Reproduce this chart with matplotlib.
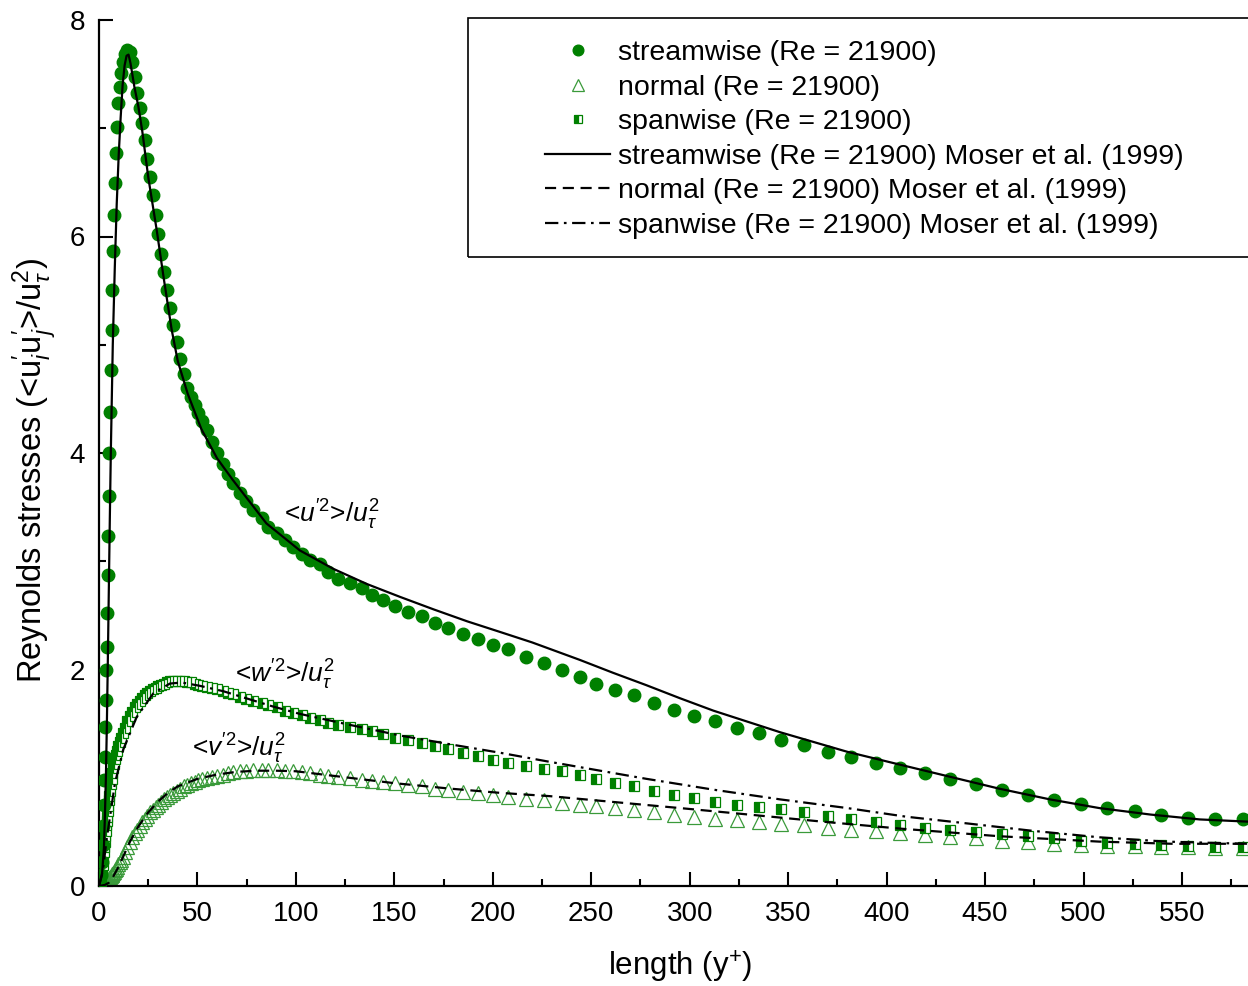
import matplotlib
matplotlib.use("Agg")
import matplotlib.pyplot as plt
from matplotlib.patches import Rectangle
from matplotlib.ticker import MultipleLocator

plt.rcParams["font.family"] = ["Liberation Sans", "DejaVu Sans"]
plt.rcParams["mathtext.fontset"] = "custom"
plt.rcParams["mathtext.rm"] = "Liberation Sans"
plt.rcParams["mathtext.it"] = "Liberation Sans:italic"
plt.rcParams["mathtext.bf"] = "Liberation Sans:bold"

# common wall-normal grid of the simulation (y+)
yplus = [
    0.0, 0.6, 1.1, 1.5, 1.85, 2.15, 2.45, 2.7, 2.95, 3.2, 3.45, 3.7, 3.9, 4.1, 4.35, 4.6, 4.85,
    5.1, 5.5, 5.95, 6.4, 6.85, 7.3, 7.8, 8.3, 8.8, 9.35, 9.9, 10.5, 11.2, 12.0, 13.0, 14.4,
    15.8, 17.0, 18.2, 19.4, 20.6, 21.9, 23.2, 24.5, 25.9, 27.3, 28.7, 30.1, 31.6, 33.1, 34.6,
    36.2, 37.8, 39.5, 41.2, 43.0, 44.8, 46.7, 48.6, 50.4, 52.3,
    54.7, 57.2, 59.7, 62.8, 65.6, 68.2, 71.6, 74.9, 78.3, 82.6, 85.9, 90.2, 94.4, 98.6, 102.9,
    107.1, 112.2, 116.4, 121.5, 127.4, 133.4, 138.4, 144.3, 150.3, 157.0, 163.8, 170.6, 177.3, 184.9,
    192.5, 200.2, 207.8, 216.8, 225.9, 235.0, 244.2, 252.3, 261.9, 271.6, 281.7, 291.9, 302.2,
    312.7, 324.1, 335.0, 346.5, 358.0, 370.2, 382.0, 394.4, 406.9, 419.3, 432.3, 445.3, 458.4,
    471.6, 484.8, 498.5, 512.0, 526.0, 539.4, 553.1, 566.8, 580.9,
]

uu = [
    0.0, 0.03, 0.10, 0.22, 0.38, 0.55, 0.75, 0.98, 1.19, 1.47, 1.72, 2.00, 2.21, 2.52, 2.87, 3.23, 3.60,
    4.00, 4.38, 4.77, 5.14, 5.51, 5.87, 6.20, 6.49, 6.77, 7.01, 7.23, 7.38, 7.51, 7.61, 7.69, 7.72,
    7.70, 7.61, 7.47, 7.33, 7.19, 7.05, 6.89, 6.72, 6.55, 6.38, 6.20, 6.02, 5.84, 5.67, 5.51,
    5.34, 5.18, 5.03, 4.87, 4.73, 4.60, 4.52, 4.44, 4.37, 4.30,
    4.21, 4.10, 4.00, 3.90, 3.81, 3.72, 3.63, 3.56, 3.47, 3.40, 3.32, 3.26, 3.20, 3.13, 3.07,
    3.01, 2.97, 2.90, 2.84, 2.80, 2.75, 2.69, 2.64, 2.59, 2.53, 2.49, 2.43, 2.38, 2.33,
    2.28, 2.23, 2.19, 2.12, 2.06, 2.00, 1.93, 1.87, 1.81, 1.76, 1.69, 1.63, 1.57,
    1.52, 1.46, 1.41, 1.35, 1.30, 1.24, 1.19, 1.14, 1.09, 1.04, 0.99, 0.94, 0.89,
    0.84, 0.79, 0.76, 0.72, 0.69, 0.66, 0.63, 0.62, 0.62,
]

vv = [
    0.0, 0.0, 0.0, 0.005, 0.01, 0.01, 0.015, 0.02, 0.02, 0.025, 0.03, 0.035, 0.04, 0.045, 0.05, 0.055, 0.06,
    0.07, 0.08, 0.09, 0.10, 0.11, 0.12, 0.13, 0.15, 0.16, 0.18, 0.20, 0.22, 0.24, 0.27, 0.31, 0.36,
    0.41, 0.45, 0.49, 0.52, 0.55, 0.59, 0.62, 0.65, 0.68, 0.70, 0.73, 0.75, 0.78, 0.80, 0.82,
    0.84, 0.86, 0.88, 0.90, 0.92, 0.93, 0.95, 0.96, 0.98, 0.99,
    1.00, 1.01, 1.02, 1.03, 1.04, 1.05, 1.06, 1.06, 1.07, 1.07, 1.07, 1.07, 1.06, 1.06, 1.05,
    1.04, 1.03, 1.02, 1.01, 1.00, 0.98, 0.97, 0.96, 0.95, 0.93, 0.92, 0.90, 0.89, 0.87,
    0.86, 0.84, 0.82, 0.80, 0.79, 0.77, 0.75, 0.74, 0.72, 0.70, 0.68, 0.66, 0.64,
    0.62, 0.61, 0.59, 0.57, 0.56, 0.54, 0.52, 0.51, 0.49, 0.47, 0.45, 0.44, 0.42,
    0.41, 0.39, 0.38, 0.37, 0.37, 0.36, 0.36, 0.35, 0.35,
]

ww = [
    0.0, 0.03, 0.08, 0.13, 0.19, 0.25, 0.31, 0.36, 0.41, 0.46, 0.51, 0.56, 0.60, 0.64, 0.69, 0.74, 0.79,
    0.83, 0.88, 0.94, 0.99, 1.04, 1.09, 1.13, 1.17, 1.21, 1.25, 1.29, 1.33, 1.37, 1.41, 1.46, 1.52,
    1.57, 1.61, 1.65, 1.68, 1.71, 1.74, 1.76, 1.78, 1.80, 1.82, 1.83, 1.85, 1.86, 1.87, 1.88,
    1.89, 1.89, 1.89, 1.89, 1.89, 1.88, 1.88, 1.87, 1.86, 1.85,
    1.84, 1.83, 1.82, 1.80, 1.78, 1.77, 1.75, 1.73, 1.71, 1.69, 1.67, 1.65, 1.62, 1.60, 1.58,
    1.55, 1.53, 1.51, 1.49, 1.47, 1.45, 1.43, 1.40, 1.37, 1.35, 1.32, 1.29, 1.27, 1.23,
    1.20, 1.16, 1.14, 1.11, 1.08, 1.06, 1.03, 0.99, 0.95, 0.92, 0.88, 0.84, 0.81,
    0.78, 0.75, 0.73, 0.71, 0.68, 0.65, 0.62, 0.59, 0.56, 0.54, 0.52, 0.50, 0.48,
    0.46, 0.44, 0.42, 0.40, 0.39, 0.38, 0.37, 0.36, 0.36,
]

# Moser, Kim & Mansour (1999) reference profiles
moser_u_y = [0, 1.5, 2.5, 3.0, 3.5, 4.0, 4.5, 5.0, 5.5, 6.0, 7.0, 8.0, 9.0, 10, 11, 12, 13, 14, 15, 16,
             18, 20, 22, 25, 29.3, 33, 36.9, 40, 45, 52, 60, 68, 85, 102, 119, 136, 153, 170, 187, 204,
             220, 232, 244, 261, 278, 295, 312, 346, 380, 407, 432, 457, 483, 508, 534, 559, 583]
moser_u = [0, 0.10, 0.35, 0.65, 1.0, 1.5, 2.1, 2.75, 3.4, 4.0, 5.0, 5.7, 6.3, 6.75, 7.1, 7.4, 7.58, 7.67,
           7.68, 7.6, 7.38, 7.2, 6.97, 6.55, 6.06, 5.6, 5.14, 4.85, 4.55, 4.22, 3.95, 3.75, 3.35, 3.10,
           2.93, 2.79, 2.67, 2.555, 2.445, 2.345, 2.25, 2.17, 2.09, 1.97, 1.855, 1.735, 1.62, 1.42,
           1.24, 1.12, 1.01, 0.90, 0.80, 0.72, 0.66, 0.615, 0.595]

moser_v_y = [0, 3, 5, 7, 10, 13, 16, 20, 25, 30, 35, 40, 50, 60, 70, 80, 90, 100, 127, 150, 178, 204,
             229, 253, 295, 330, 370, 407, 457, 508, 545, 583]
moser_v = [0, 0.01, 0.03, 0.08, 0.18, 0.30, 0.42, 0.55, 0.68, 0.78, 0.86, 0.92, 0.99, 1.03, 1.055,
           1.065, 1.065, 1.06, 1.00, 0.95, 0.90, 0.86, 0.83, 0.79, 0.72, 0.66, 0.59, 0.53, 0.46, 0.41,
           0.39, 0.39]

moser_w_y = [0, 2, 4, 5.6, 8.1, 12.3, 19.1, 27.6, 36, 42, 51, 63, 88, 102, 127, 153, 178, 204, 228,
             253, 278, 312, 346, 380, 410, 440, 474, 508, 542, 583]
moser_w = [0, 0.15, 0.45, 0.64, 0.95, 1.26, 1.56, 1.78, 1.87, 1.88, 1.85, 1.80, 1.66, 1.59, 1.49,
           1.39, 1.31, 1.23, 1.15, 1.07, 0.99, 0.89, 0.80, 0.72, 0.64, 0.58, 0.51, 0.45, 0.41, 0.39]

GREEN = "#008000"
LIGHT_GREEN = "#3a9a3a"
W, H = 1248, 986

fig = plt.figure(figsize=(W / 100, H / 100), dpi=100)
ax = fig.add_axes([99 / W, 1 - 886 / H, 1 - 99 / W, (886 - 20) / H])

h_u, = ax.plot(yplus, uu, "o", ms=9, color=GREEN, mec=GREEN, ls="none",
               label="streamwise (Re = 21900)", zorder=3)
h_v, = ax.plot(yplus, vv, "^", ms=10, mfc="none", mec=LIGHT_GREEN, mew=0.9, ls="none",
               label="normal (Re = 21900)", zorder=2)
h_w, = ax.plot(yplus, ww, "s", ms=7.5, fillstyle="left", mfc=GREEN, mfcalt="white", mec=GREEN,
               mew=0.9, ls="none", label="spanwise (Re = 21900)", zorder=2)
l_u, = ax.plot(moser_u_y, moser_u, "-", color="black", lw=1.6,
               label="streamwise (Re = 21900) Moser et al. (1999)", zorder=4)
l_v, = ax.plot(moser_v_y, moser_v, color="black", lw=1.6, dashes=(5, 3),
               label="normal (Re = 21900) Moser et al. (1999)", zorder=4)
l_w, = ax.plot(moser_w_y, moser_w, color="black", lw=1.6, dashes=(6, 2.5, 1.2, 2.5),
               label="spanwise (Re = 21900) Moser et al. (1999)", zorder=4)

ax.set_xlim(0, (W - 99) / 1.969)
ax.set_ylim(0, 8)
ax.xaxis.set_major_locator(MultipleLocator(50))
ax.xaxis.set_minor_locator(MultipleLocator(25))
ax.yaxis.set_major_locator(MultipleLocator(2))
ax.yaxis.set_minor_locator(MultipleLocator(1))
ax.tick_params(which="major", direction="in", length=10, width=1.5, labelsize=20)
ax.tick_params(axis="x", which="major", pad=11)
ax.tick_params(axis="y", which="major", pad=10)
ax.tick_params(which="minor", direction="in", length=5, width=1.5)
for side in ("top", "right"):
    ax.spines[side].set_visible(False)
for side in ("left", "bottom"):
    ax.spines[side].set_linewidth(1.6)

ax.set_xlabel("length (y$^{+}$)", fontsize=22.5)
ax.set_ylabel(r"Reynolds stresses (<$\mathrm{u}_i^{\prime}\mathrm{u}_j^{\prime}$>/$\mathrm{u}_\tau^2$)",
              fontsize=23.5)
ax.xaxis.set_label_coords((680 - 99) / (W - 99), -(967 - 886) / 866)
ax.xaxis.label.set_va("center")
ax.yaxis.set_label_coords(-(99 - 35) / (W - 99), (886 - 470) / 866)
ax.yaxis.label.set_va("center")

ax.text(94, 3.43, r"<$u^{\prime 2}$>/$u_\tau^2$", fontsize=19, va="center")
ax.text(69, 1.95, r"<$w^{\prime 2}$>/$u_\tau^2$", fontsize=19, va="center")
ax.text(47, 1.27, r"<$v^{\prime 2}$>/$u_\tau^2$", fontsize=19, va="center")

fig.add_artist(Rectangle((468 / W, 1 - 257 / H), (1260 - 468) / W, (257 - 18) / H,
                         transform=fig.transFigure, fill=False, ec="black", lw=1.2))
fig.legend(handles=[h_u, h_v, h_w, l_u, l_v, l_w], loc="upper left",
           bbox_to_anchor=(545 / W, 1 - 40 / H), bbox_transform=fig.transFigure,
           frameon=False, fontsize=20.5, handlelength=2.3, handletextpad=0.25,
           labelspacing=0.3, borderpad=0, borderaxespad=0, markerscale=0.85)

fig.savefig("out.png", dpi=100)
